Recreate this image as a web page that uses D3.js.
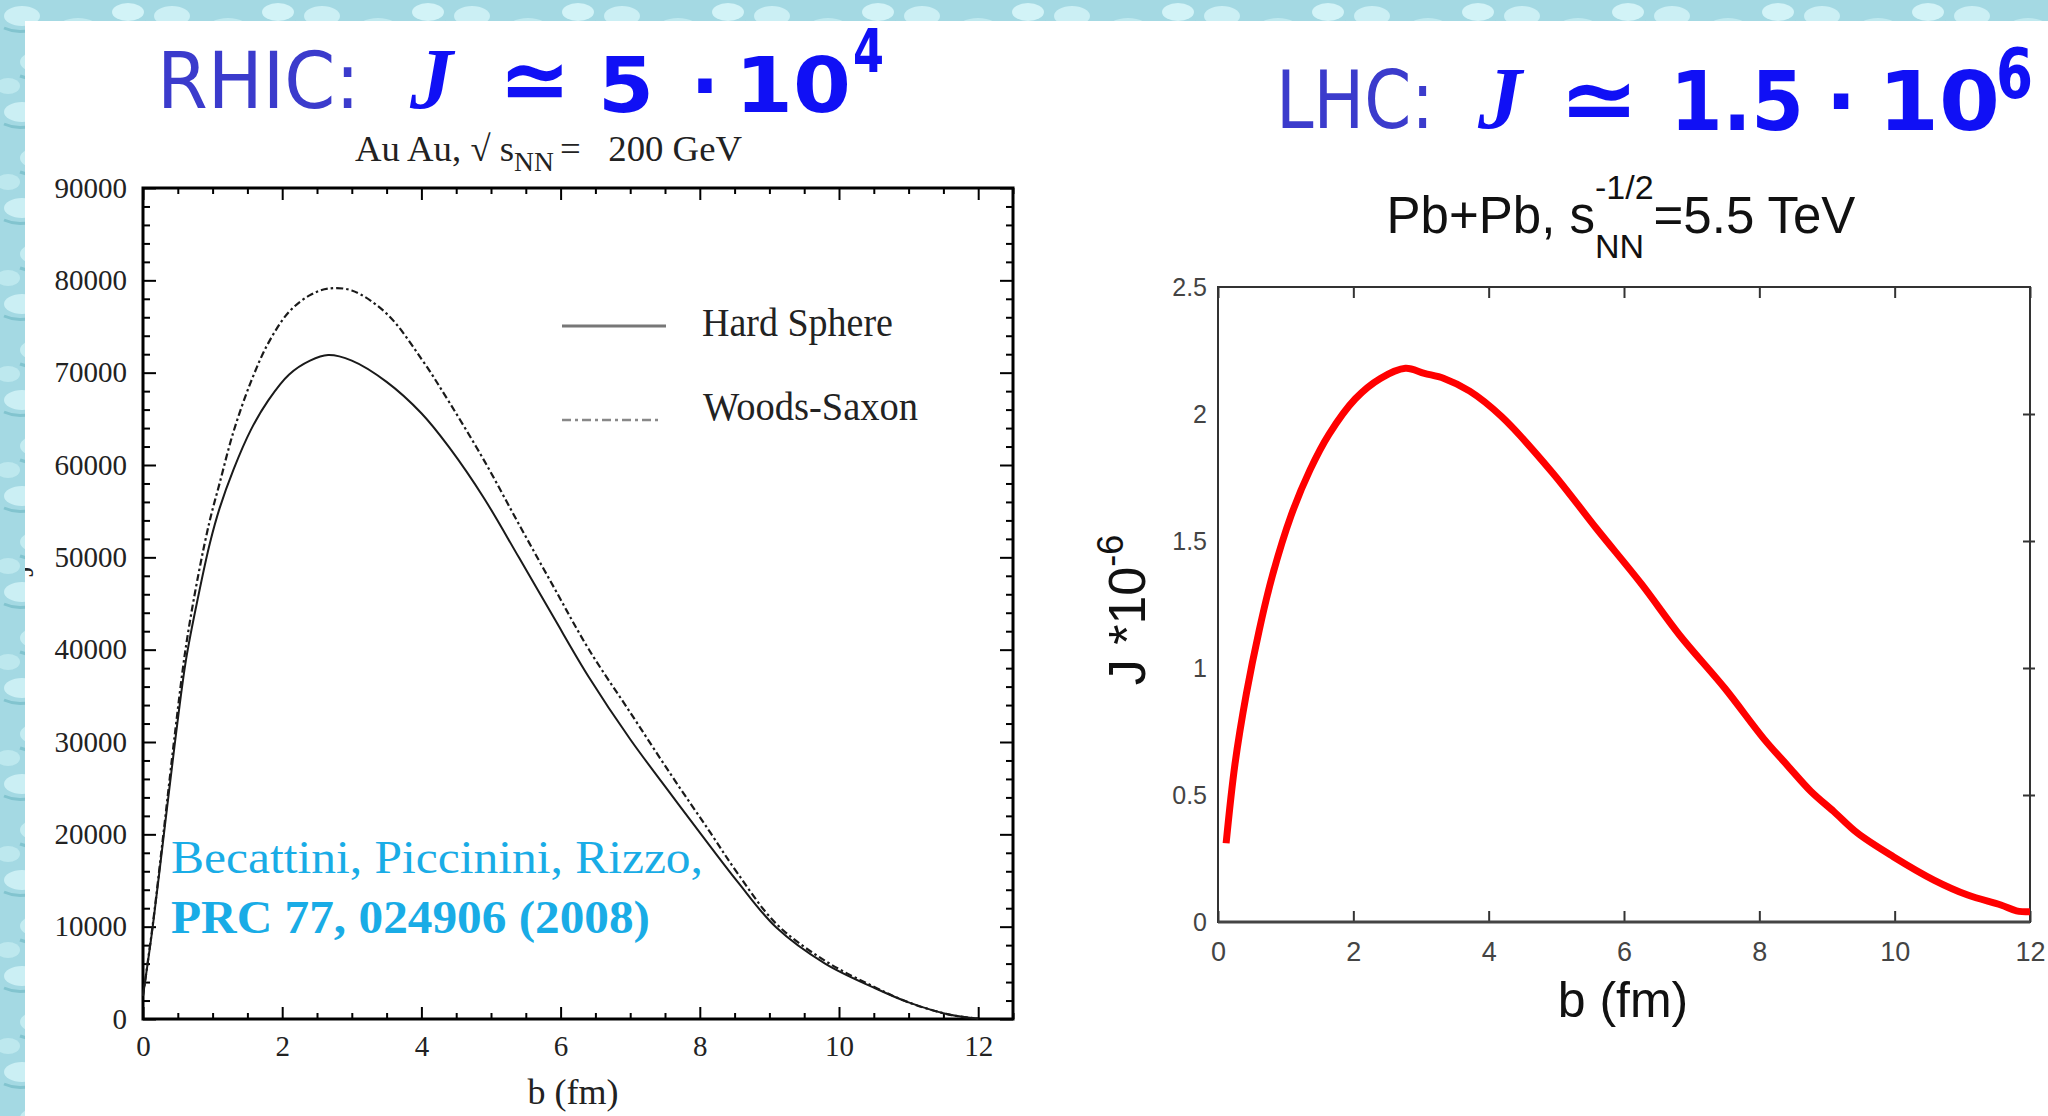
<!DOCTYPE html>
<html>
<head>
<meta charset="utf-8">
<script src="https://cdn.jsdelivr.net/npm/d3@7"></script>
<style>
  html, body { margin: 0; padding: 0; background: #fff; }
  svg { display: block; }
</style>
</head>
<body>
<svg id="chart" width="2048" height="1116"></svg>
<script>
// ---------------- data ----------------
// RHIC (Au+Au, 200 GeV): angular momentum J vs impact parameter b
const rhicB = [0, 0.14, 0.3, 0.46, 0.62, 0.8, 0.96, 1.1, 1.3, 1.55, 1.8, 2.1, 2.4, 2.66, 3.0, 3.5,
               4.0, 4.4, 4.9, 5.4, 5.9, 6.4, 7.0, 7.6, 8.15, 8.55, 9.1, 9.8, 10.5, 11.0, 11.6, 12.0];
const hardSphereJ = [2500, 10000, 20000, 30000, 39000, 46000, 51500, 55300, 59500, 63800, 67000, 69800,
                     71300, 71900, 71300, 69000, 65600, 61900, 56400, 50000, 43500, 37100, 30300, 24200,
                     18700, 14800, 9900, 6000, 3400, 1800, 450, 50];
const woodsSaxonJ = [2500, 10200, 20500, 31000, 40500, 48300, 54000, 58000, 63600, 69000, 73200, 76600,
                     78400, 79100, 78900, 76400, 71500, 66800, 60500, 53600, 46800, 40100, 33200, 26300,
                     20200, 15700, 10300, 6300, 3500, 1800, 450, 50];
const rhicXTicks = [0, 2, 4, 6, 8, 10, 12];
const rhicYTicks = [0, 10000, 20000, 30000, 40000, 50000, 60000, 70000, 80000, 90000];
const legendLabels = ["Hard Sphere", "Woods-Saxon"];

// LHC (Pb+Pb, 5.5 TeV): J * 1e-6 vs b
const lhcB = [0.12, 0.25, 0.42, 0.61, 0.80, 1.08, 1.36, 1.64, 2.03, 2.40, 2.77, 3.05, 3.34, 3.72, 4.19,
              4.94, 5.59, 6.26, 6.82, 7.49, 8.07, 8.42, 8.76, 9.10, 9.45, 9.98, 10.58, 11.08, 11.57, 11.80, 12.00];
const lhcJ = [0.31, 0.62, 0.90, 1.15, 1.36, 1.60, 1.78, 1.92, 2.06, 2.14, 2.18, 2.16, 2.14, 2.09, 1.99,
              1.77, 1.55, 1.33, 1.13, 0.92, 0.72, 0.615, 0.515, 0.435, 0.35, 0.257, 0.165, 0.106, 0.067, 0.044, 0.040];
const lhcXTicks = [0, 2, 4, 6, 8, 10, 12];
const lhcYTicks = [0, 0.5, 1, 1.5, 2, 2.5];
const lhcYTickLabels = ["0", "0.5", "1", "1.5", "2", "2.5"];

// ---------------- page ----------------
const svg = d3.select("#chart");
const defs = svg.append("defs");

// watery background texture
const pat = defs.append("pattern").attr("id", "water")
  .attr("patternUnits", "userSpaceOnUse").attr("width", 150).attr("height", 96);
pat.append("rect").attr("width", 150).attr("height", 96).attr("fill", "#a4d9e3");
[[22, 16, 18, 10, "#cbeff4"], [78, 30, 22, 12, "#bfe9ef"], [128, 12, 16, 9, "#d2f3f7"],
 [40, 62, 20, 11, "#c4ecf1"], [104, 74, 24, 13, "#cff1f5"], [8, 86, 12, 8, "#bde8ee"],
 [140, 54, 12, 9, "#c9eef3"]].forEach(([cx, cy, rx, ry, f]) =>
  pat.append("ellipse").attr("cx", cx).attr("cy", cy).attr("rx", rx).attr("ry", ry).attr("fill", f));
["M4,28 Q22,36 40,26", "M58,44 Q78,52 100,42", "M112,24 Q128,32 146,22", "M20,76 Q40,84 60,74",
 "M84,90 Q104,97 126,88"].forEach(d =>
  pat.append("path").attr("d", d).attr("stroke", "#82c4cf").attr("stroke-width", 3).attr("fill", "none"));

svg.append("rect").attr("width", 2048).attr("height", 1116).attr("fill", "url(#water)");
svg.append("rect").attr("x", 25).attr("y", 21).attr("width", 2023).attr("height", 1095).attr("fill", "#fff");

defs.append("clipPath").attr("id", "panel")
  .append("rect").attr("x", 25).attr("y", 21).attr("width", 2023).attr("height", 1095);

const SERIF = "'Liberation Serif', 'Times New Roman', serif";
const SANS = "'Liberation Sans', Arial, sans-serif";
const DJ = "'DejaVu Sans', sans-serif";

// ---------------- headers ----------------
const headerPurple = "#3b3bcc";
const headerBlue = "#1010f5";
function put(x, y, txt, opts) {
  const t = svg.append("text").attr("x", x).attr("y", y).text(txt)
    .attr("font-family", opts.family).attr("font-size", opts.size)
    .attr("fill", opts.fill);
  if (opts.weight) t.attr("font-weight", opts.weight);
  if (opts.style) t.attr("font-style", opts.style);
  if (opts.len) t.attr("textLength", opts.len).attr("lengthAdjust", "spacingAndGlyphs");
  if (opts.anchor) t.attr("text-anchor", opts.anchor);
  return t;
}
// RHIC header
put(157, 108, "RHIC:", {family: DJ, size: 78, fill: headerPurple, len: 203});
put(410, 108, "J", {family: SERIF, size: 86, fill: headerBlue, weight: "bold", style: "italic"});
put(499, 110, "\u2243", {family: DJ, size: 88, fill: headerBlue, weight: "bold", len: 72});
put(598, 112, "5", {family: DJ, size: 76, fill: headerBlue, weight: "bold", len: 56});
put(705, 112, "\u00B7", {family: DJ, size: 76, fill: headerBlue, weight: "bold", anchor: "middle"});
put(735, 112, "10", {family: DJ, size: 76, fill: headerBlue, weight: "bold", len: 116});
put(853, 72, "4", {family: DJ, size: 60, fill: headerBlue, weight: "bold", len: 31});

// LHC header
put(1276, 128, "LHC:", {family: DJ, size: 80, fill: headerPurple, len: 158});
put(1478, 128, "J", {family: SERIF, size: 88, fill: headerBlue, weight: "bold", style: "italic"});
put(1559, 130, "\u2243", {family: DJ, size: 90, fill: headerBlue, weight: "bold", len: 80});
put(1670, 130, "1.5", {family: DJ, size: 82, fill: headerBlue, weight: "bold", len: 134});
put(1841, 130, "\u00B7", {family: DJ, size: 82, fill: headerBlue, weight: "bold", anchor: "middle"});
put(1878, 130, "10", {family: DJ, size: 82, fill: headerBlue, weight: "bold", len: 122});
put(1996, 98, "6", {family: DJ, size: 70, fill: headerBlue, weight: "bold", len: 37});

// ---------------- left chart (RHIC) ----------------
const xL = d3.scaleLinear().domain([0, 12.5]).range([143, 1013]);
const yL = d3.scaleLinear().domain([0, 90000]).range([1019, 188]);

function styleAxis(g, opts) {
  g.select(".domain").remove();
  g.selectAll(".tick line").attr("stroke", opts.stroke).attr("stroke-width", opts.width);
  g.selectAll(".tick text").attr("font-family", opts.family).attr("font-size", opts.size).attr("fill", opts.fill);
}

const leftG = svg.append("g");
const minorX = d3.range(0, 12.51, 0.5).filter(v => v % 2 !== 0);
const minorY = d3.range(0, 90001, 2000).filter(v => v % 10000 !== 0);
const leftAxisStyle = {stroke: "#000", width: 2, family: SERIF, size: 29, fill: "#222"};

// bottom
leftG.append("g").attr("transform", `translate(0,${yL(0)})`)
  .call(d3.axisBottom(xL).tickValues(rhicXTicks).tickSizeInner(-12).tickSizeOuter(0).tickPadding(16).tickFormat(d3.format("d")))
  .call(g => styleAxis(g, leftAxisStyle));
leftG.append("g").attr("transform", `translate(0,${yL(0)})`)
  .call(d3.axisBottom(xL).tickValues(minorX).tickSizeInner(-6).tickSizeOuter(0).tickFormat(""))
  .call(g => styleAxis(g, leftAxisStyle));
// top
leftG.append("g").attr("transform", `translate(0,${yL(90000)})`)
  .call(d3.axisTop(xL).tickValues(rhicXTicks).tickSizeInner(-12).tickSizeOuter(0).tickFormat(""))
  .call(g => styleAxis(g, leftAxisStyle));
leftG.append("g").attr("transform", `translate(0,${yL(90000)})`)
  .call(d3.axisTop(xL).tickValues(minorX).tickSizeInner(-6).tickSizeOuter(0).tickFormat(""))
  .call(g => styleAxis(g, leftAxisStyle));
// left
leftG.append("g").attr("transform", `translate(${xL(0)},0)`)
  .call(d3.axisLeft(yL).tickValues(rhicYTicks).tickSizeInner(-13).tickSizeOuter(0).tickPadding(16).tickFormat(d3.format("d")))
  .call(g => styleAxis(g, leftAxisStyle));
leftG.append("g").attr("transform", `translate(${xL(0)},0)`)
  .call(d3.axisLeft(yL).tickValues(minorY).tickSizeInner(-7).tickSizeOuter(0).tickFormat(""))
  .call(g => styleAxis(g, leftAxisStyle));
// right
leftG.append("g").attr("transform", `translate(${xL(12.5)},0)`)
  .call(d3.axisRight(yL).tickValues(rhicYTicks).tickSizeInner(-13).tickSizeOuter(0).tickFormat(""))
  .call(g => styleAxis(g, leftAxisStyle));
leftG.append("g").attr("transform", `translate(${xL(12.5)},0)`)
  .call(d3.axisRight(yL).tickValues(minorY).tickSizeInner(-7).tickSizeOuter(0).tickFormat(""))
  .call(g => styleAxis(g, leftAxisStyle));

// frame
leftG.append("rect").attr("x", xL(0)).attr("y", yL(90000))
  .attr("width", xL(12.5) - xL(0)).attr("height", yL(0) - yL(90000))
  .attr("fill", "none").attr("stroke", "#000").attr("stroke-width", 3);

// curves
const lineL = d3.line().curve(d3.curveCatmullRom.alpha(0.5));
const hsPts = rhicB.map((b, i) => [xL(b), yL(hardSphereJ[i])]);
const wsPts = rhicB.map((b, i) => [xL(b), yL(woodsSaxonJ[i])]);
leftG.append("path").attr("d", lineL(wsPts)).attr("fill", "none")
  .attr("stroke", "#1a1a1a").attr("stroke-width", 2.2).attr("stroke-dasharray", "7,3,2.5,3");
leftG.append("path").attr("d", lineL(hsPts)).attr("fill", "none")
  .attr("stroke", "#1a1a1a").attr("stroke-width", 2);

// legend
const legY = [326, 420];
leftG.append("line").attr("x1", 562).attr("x2", 666).attr("y1", legY[0]).attr("y2", legY[0])
  .attr("stroke", "#777").attr("stroke-width", 3);
leftG.append("line").attr("x1", 562).attr("x2", 660).attr("y1", legY[1]).attr("y2", legY[1])
  .attr("stroke", "#888").attr("stroke-width", 2.5).attr("stroke-dasharray", "9,4,3,4");
leftG.append("text").attr("x", 702).attr("y", 336).text(legendLabels[0])
  .attr("font-family", SERIF).attr("font-size", 40).attr("fill", "#222")
  .attr("textLength", 191).attr("lengthAdjust", "spacingAndGlyphs");
leftG.append("text").attr("x", 703).attr("y", 420).text(legendLabels[1])
  .attr("font-family", SERIF).attr("font-size", 40).attr("fill", "#222")
  .attr("textLength", 215).attr("lengthAdjust", "spacingAndGlyphs");

// title: Au Au, sqrt(s_NN) = 200 GeV
{
  const t = leftG.append("text").attr("x", 355).attr("y", 161)
    .attr("font-family", SERIF).attr("font-size", 36).attr("fill", "#222")
    .attr("textLength", 387).attr("lengthAdjust", "spacingAndGlyphs");
  t.append("tspan").text("Au Au, \u221A s");
  t.append("tspan").attr("font-size", 27).attr("dy", 10).text("NN");
  t.append("tspan").attr("dy", -10).attr("dx", 6).text("=\u2002 200 GeV");
}

// x-axis title
leftG.append("text").attr("x", 573).attr("y", 1104).attr("text-anchor", "middle")
  .attr("font-family", SERIF).attr("font-size", 36).attr("fill", "#222").text("b (fm)");

// y-axis title, mostly hidden beneath the border
svg.append("g").attr("clip-path", "url(#panel)")
  .append("text").attr("transform", "translate(33,571) rotate(-90)").attr("text-anchor", "middle")
  .attr("font-family", SERIF).attr("font-size", 30).attr("fill", "#222").text("J");

// reference note
leftG.append("text").attr("x", 171).attr("y", 873)
  .attr("font-family", SERIF).attr("font-size", 46).attr("fill", "#19ace6")
  .attr("textLength", 532).attr("lengthAdjust", "spacingAndGlyphs")
  .text("Becattini, Piccinini, Rizzo,");
leftG.append("text").attr("x", 171).attr("y", 933)
  .attr("font-family", SERIF).attr("font-size", 46).attr("font-weight", "bold").attr("fill", "#19ace6")
  .attr("textLength", 479).attr("lengthAdjust", "spacingAndGlyphs")
  .text("PRC 77, 024906 (2008)");

// ---------------- right chart (LHC) ----------------
const xR = d3.scaleLinear().domain([0, 12]).range([1218, 2030]);
const yR = d3.scaleLinear().domain([0, 2.5]).range([922, 287]);
const rightG = svg.append("g");
const rightAxisStyle = {stroke: "#333", width: 2, family: SANS, size: 27, fill: "#444"};

rightG.append("g").attr("transform", `translate(0,${yR(0)})`)
  .call(d3.axisBottom(xR).tickValues(lhcXTicks).tickSizeInner(-11).tickSizeOuter(0).tickPadding(20).tickFormat(d3.format("d")))
  .call(g => styleAxis(g, rightAxisStyle));
rightG.append("g").attr("transform", `translate(0,${yR(2.5)})`)
  .call(d3.axisTop(xR).tickValues(lhcXTicks).tickSizeInner(-11).tickSizeOuter(0).tickFormat(""))
  .call(g => styleAxis(g, rightAxisStyle));
rightG.append("g").attr("transform", `translate(${xR(0)},0)`)
  .call(d3.axisLeft(yR).tickValues(lhcYTicks).tickSize(0).tickPadding(11).tickFormat((d, i) => lhcYTickLabels[i]))
  .call(g => styleAxis(g, Object.assign({}, rightAxisStyle, {size: 25})));
rightG.append("g").attr("transform", `translate(${xR(12)},0)`)
  .call(d3.axisRight(yR).tickValues(lhcYTicks.slice(1, 5)).tickSizeInner(-7).tickSizeOuter(0).tickFormat(""))
  .call(g => styleAxis(g, rightAxisStyle))
  .call(g => g.selectAll(".tick line").attr("x1", 5));

rightG.append("rect").attr("x", xR(0)).attr("y", yR(2.5))
  .attr("width", xR(12) - xR(0)).attr("height", yR(0) - yR(2.5))
  .attr("fill", "none").attr("stroke", "#333").attr("stroke-width", 2);
rightG.append("line").attr("x1", xR(0)).attr("x2", xR(12)).attr("y1", yR(0)).attr("y2", yR(0))
  .attr("stroke", "#444").attr("stroke-width", 3);

const lineR = d3.line().x((d, i) => xR(lhcB[i])).y(d => yR(d)).curve(d3.curveCatmullRom.alpha(0.5));
rightG.append("path").attr("d", lineR(lhcJ)).attr("fill", "none")
  .attr("stroke", "#ff0000").attr("stroke-width", 7).attr("stroke-linejoin", "round");

// x-axis title
rightG.append("text").attr("x", 1623).attr("y", 1017).attr("text-anchor", "middle")
  .attr("font-family", SANS).attr("font-size", 50).attr("fill", "#111").text("b (fm)");

// y-axis title  J *10^-6
{
  const t = rightG.append("text").attr("transform", "translate(1145,610) rotate(-90)")
    .attr("text-anchor", "middle").attr("font-family", SANS).attr("font-size", 52).attr("fill", "#111");
  t.append("tspan").text("J *10");
  t.append("tspan").attr("font-size", 36).attr("dy", -22).text("-6");
}

// title  Pb+Pb, s_NN^{-1/2} = 5.5 TeV
{
  const g = rightG.append("g");
  const base = 233;
  const main = g.append("text").attr("y", base).attr("font-family", SANS).attr("font-size", 51)
    .attr("fill", "#111").text("Pb+Pb, s");
  const sup = g.append("text").attr("y", 199).attr("font-family", SANS).attr("font-size", 34)
    .attr("fill", "#111").text("-1/2");
  const sub = g.append("text").attr("y", 258).attr("font-family", SANS).attr("font-size", 34)
    .attr("fill", "#111").text("NN");
  const rest = g.append("text").attr("y", base).attr("font-family", SANS).attr("font-size", 51)
    .attr("fill", "#111").text("=5.5 TeV");
  const w1 = main.node().getComputedTextLength();
  const w2 = Math.max(sup.node().getComputedTextLength(), sub.node().getComputedTextLength());
  const w3 = rest.node().getComputedTextLength();
  const x0 = 1621 - (w1 + w2 + w3) / 2;
  main.attr("x", x0);
  sup.attr("x", x0 + w1);
  sub.attr("x", x0 + w1);
  rest.attr("x", x0 + w1 + w2);
}
</script>
</body>
</html>
